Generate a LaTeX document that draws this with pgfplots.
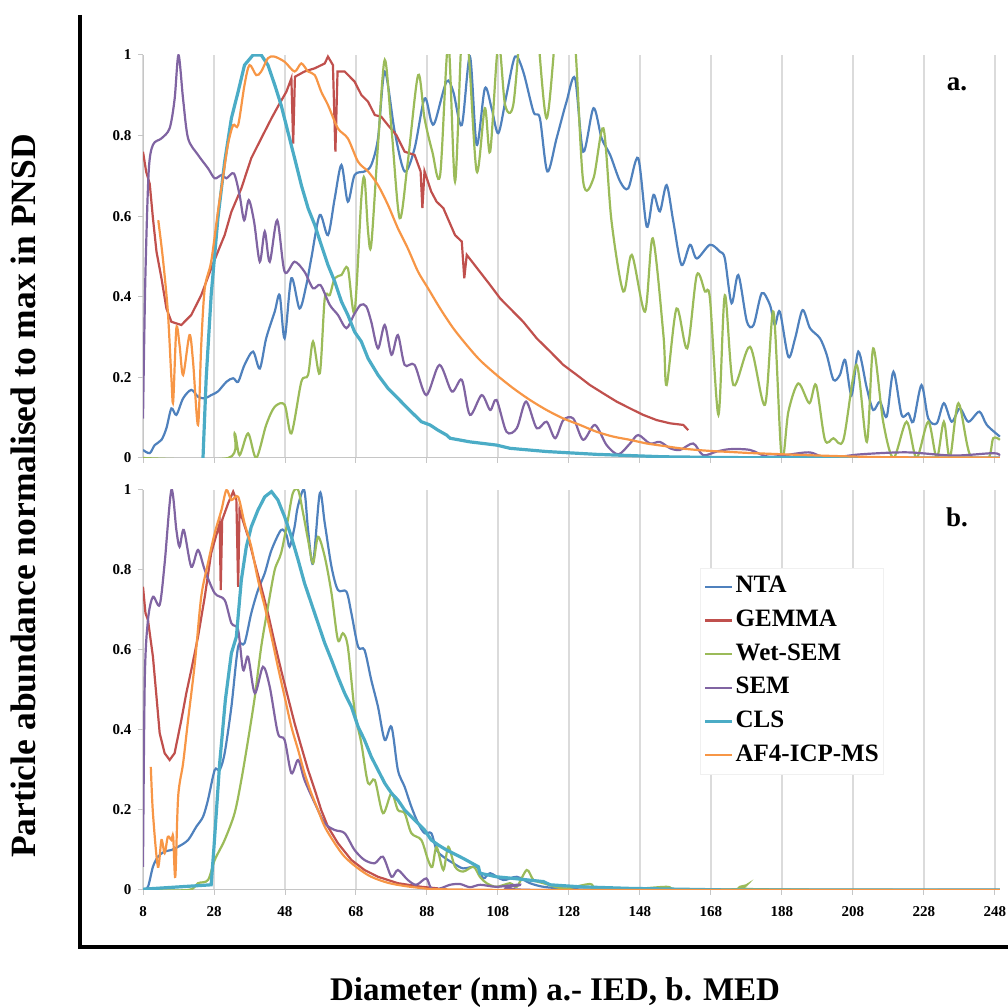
\documentclass[border=0pt]{standalone}
\usepackage{fontspec}
\setmainfont{Liberation Serif}
\usepackage{pgfplots}
\pgfplotsset{compat=1.18}
\definecolor{cNTA}{HTML}{4F81BD}
\definecolor{cGEM}{HTML}{C0504D}
\definecolor{cWET}{HTML}{9BBB59}
\definecolor{cSEM}{HTML}{8064A2}
\definecolor{cCLS}{HTML}{4BACC6}
\definecolor{cAF4}{HTML}{F79646}
\pgfplotsset{
  panel/.style={
    scale only axis, width=857.3pt,
    xmin=8, xmax=249.5, ymin=0, ymax=1,
    axis lines*=left,
    axis line style={draw=gray!45, line width=1pt},
    xtick={8,28,...,248}, ytick={0,0.2,0.4,0.6,0.8,1},
    yticklabels={0,0.2,0.4,0.6,0.8,1},
    xmajorgrids, major grid style={draw=gray!28, line width=1.3pt},
    tick style={draw=gray!45, line width=1pt}, tick align=outside, major tick length=5pt,
    tick label style={font=\fontsize{15}{18}\selectfont\bfseries},
    yticklabel style={anchor=east, xshift=-3pt},
  },
  ser/.style={line width=2.2pt, smooth, tension=0.5},
}
\begin{document}
\begin{tikzpicture}
\useasboundingbox (0pt,0pt) rectangle (1008pt,1008pt);
% ---------- panel a ----------
\begin{axis}[panel, height=403pt, at={(143pt,550pt)}, anchor=south west, xticklabels={}]
\addplot[ser, cNTA] coordinates {(8,0.02) (9.9,0.012) (11.3,0.032) (13.2,0.045) (14.6,0.074) (16,0.123) (17.4,0.107) (19.3,0.148) (21.6,0.169) (23.5,0.152) (25.4,0.148) (27.2,0.156) (29.1,0.165) (31.5,0.189) (33.4,0.198) (34.8,0.189) (36.6,0.231) (39,0.264) (40.9,0.222) (42.7,0.297) (45.1,0.363) (46.5,0.404) (47.9,0.297) (49.8,0.446) (52.1,0.371) (54,0.429) (55.4,0.495) (57.8,0.603) (60.1,0.553) (62,0.644) (63.9,0.727) (65.7,0.636) (67.6,0.702) (70.4,0.711) (72.3,0.727) (74.2,0.793) (76.1,0.959) (78.9,0.81) (81.7,0.711) (84.5,0.768) (87.3,0.892) (89.2,0.835) (90.3,0.835) (93.5,0.934) (95.4,0.909) (97.8,0.826) (100.1,0.996) (102,0.777) (104.3,0.917) (106.2,0.868) (108.1,0.806) (110.4,0.901) (112.8,0.996) (115.1,0.959) (118,0.859) (119.8,0.843) (121.9,0.711) (124.5,0.793) (127.3,0.884) (129.7,0.942) (132,0.76) (134.9,0.868) (137.2,0.793) (139.6,0.752) (142.4,0.686) (144.7,0.669) (147.5,0.744) (149.9,0.574) (151.8,0.653) (153.6,0.612) (155.5,0.677) (157.4,0.586) (159.7,0.479) (162.1,0.529) (164,0.495) (167.7,0.529) (170.5,0.512) (171.9,0.495) (173.8,0.384) (175.7,0.454) (178.1,0.339) (180,0.33) (182.3,0.409) (184.6,0.38) (186,0.33) (187.4,0.363) (189.8,0.251) (191.7,0.297) (193.8,0.367) (195.9,0.322) (198.7,0.297) (200.6,0.256) (202.5,0.194) (204.3,0.206) (205.8,0.243) (207.6,0.156) (209.5,0.264) (211.9,0.173) (213.7,0.119) (215.6,0.14) (217.5,0.103) (219.4,0.214) (221.7,0.107) (223.6,0.111) (225,0.09) (227.3,0.181) (229.2,0.098) (231.6,0.086) (233.6,0.136) (235.8,0.09) (238.1,0.123) (240.5,0.09) (243.6,0.115) (245.7,0.082) (249.4,0.053)};
\addplot[line width=2.2pt, cGEM] coordinates {(8,0.76) (8.9,0.71) (9.9,0.68) (10.8,0.595) (11.8,0.512) (13.2,0.446) (14.6,0.371) (16,0.338) (18.8,0.33) (21.6,0.355) (24.4,0.404) (27.2,0.47) (29.1,0.512) (31,0.553) (32.9,0.611) (35.7,0.669) (38.5,0.744) (41.3,0.793) (44.2,0.843) (46,0.872) (48.4,0.909) (49.8,0.942) (50.3,0.78) (50.8,0.946) (53.5,0.959) (56.4,0.967) (59.2,0.979) (60.1,0.996) (61.5,0.975) (62.2,0.76) (62.8,0.959) (64.8,0.959) (67.6,0.934) (69.5,0.901) (71.4,0.884) (73.3,0.851) (75.1,0.847) (77,0.826) (79.4,0.801) (81.7,0.76) (84.5,0.752) (86.2,0.711) (86.7,0.62) (87.3,0.711) (89.2,0.661) (90.7,0.636) (92.6,0.62) (95.9,0.553) (97.8,0.537) (98.5,0.446) (99.2,0.504) (102.9,0.462) (105.8,0.429) (108.6,0.396) (111.4,0.371) (115.1,0.338) (118.9,0.297) (122.7,0.264) (126.4,0.231) (130.2,0.206) (133.9,0.181) (137.7,0.16) (141.4,0.14) (145.2,0.123) (148.9,0.107) (152.7,0.094) (156.5,0.086) (160.2,0.082) (161.6,0.069)};
\addplot[ser, cWET] coordinates {(8,0) (32,0) (33.8,0.061) (35.2,0.007) (37.6,0.061) (39.9,0) (42.7,0.082) (45.1,0.127) (47.9,0.132) (49.8,0.061) (52.6,0.189) (54.5,0.206) (55.9,0.289) (57.8,0.21) (59.2,0.396) (60.6,0.404) (62,0.446) (63.9,0.454) (65.7,0.471) (67.6,0.363) (69.5,0.644) (70.4,0.694) (71.4,0.562) (72.3,0.529) (74.2,0.777) (76.1,0.988) (78,0.818) (80.3,0.595) (82.6,0.735) (85.5,0.95) (87.3,0.843) (89.5,0.76) (91.7,0.702) (94,1.03) (95.9,0.686) (97.8,1.05) (99.6,1.02) (102,0.711) (104.3,0.868) (105.8,0.76) (108.1,1.03) (110,0.876) (112.3,0.876) (114.7,1.1) (116.8,1.15) (118.9,1.08) (121.7,0.843) (124.5,1.08) (127,1.2) (129.7,1.03) (132,0.686) (134.9,0.694) (137.7,0.818) (140,0.586) (143.3,0.413) (145.7,0.504) (149.4,0.363) (151.6,0.545) (154.6,0.305) (155.5,0.181) (158.3,0.371) (161.3,0.272) (164,0.454) (166.3,0.413) (167.7,0.396) (170.1,0.107) (171.9,0.404) (174.3,0.181) (179,0.276) (183.2,0.132) (185.6,0.363) (187.9,0) (189.8,0.115) (192.6,0.185) (195.7,0.136) (197.6,0.181) (200.1,0.045) (202.5,0.049) (205.3,0.045) (209,0.231) (211.9,0.04) (213.7,0.272) (216.5,0.09) (219.4,0) (223.1,0.09) (225.9,0) (229.2,0.09) (231.6,0) (233.6,0.09) (235.3,0) (237.7,0.136) (241,0.007) (246.1,0) (247.5,0.049) (249.4,0.045)};
\addplot[ser, cSEM] coordinates {(8,0.098) (8.66,0.446) (9.6,0.71) (10.8,0.777) (13.2,0.793) (15.5,0.818) (16.9,0.89) (18,1.0) (19.3,0.89) (20.7,0.793) (23.5,0.752) (26.3,0.719) (28.2,0.694) (30.1,0.702) (31.5,0.694) (33.6,0.706) (35.2,0.653) (36.5,0.59) (37.8,0.64) (39.3,0.586) (40.9,0.487) (42.3,0.562) (43.7,0.487) (45.8,0.59) (47.9,0.462) (50.7,0.487) (53.5,0.462) (55.9,0.421) (58,0.429) (60.6,0.38) (62.9,0.355) (65.3,0.322) (67.4,0.355) (69.3,0.38) (70.9,0.376) (72.3,0.338) (74.2,0.272) (76.1,0.33) (78,0.256) (79.8,0.305) (81.7,0.231) (84.5,0.231) (87.8,0.156) (91.5,0.231) (95,0.165) (97.8,0.194) (100.1,0.107) (103.4,0.156) (105.8,0.119) (107.6,0.144) (110.4,0.065) (113.3,0.074) (115.9,0.14) (118.9,0.074) (121.7,0.09) (124.1,0.049) (126.4,0.094) (129.2,0.098) (132,0.045) (135.3,0.082) (138.6,0.032) (141.9,0.009) (145.2,0.036) (147.5,0.057) (150.8,0.036) (153.6,0.04) (156.5,0.024) (159.3,0.02) (163,0.036) (165.8,0.007) (169.6,0.016) (173.4,0.022) (179,0.02) (184.6,0.003) (195.4,0.014) (200.6,0) (210,0.009) (223.1,0.014) (236.3,0.006) (247.5,0.012) (249.4,0.006)};
\addplot[line width=3.2pt, cCLS] coordinates {(24.9,0) (25.8,0.198) (27.2,0.404) (29.1,0.595) (31,0.735) (32.9,0.843) (34.8,0.909) (36.6,0.975) (39,1.0) (41.3,1.0) (43.2,0.975) (45.1,0.926) (46.9,0.876) (48.8,0.81) (50.7,0.744) (52.6,0.677) (54.5,0.62) (56.4,0.578) (58.2,0.529) (60.1,0.479) (62,0.438) (63.9,0.388) (65.7,0.355) (67.6,0.313) (69.5,0.289) (71.4,0.247) (74.2,0.206) (77,0.173) (79.8,0.148) (82.6,0.123) (86.4,0.09) (88.85,0.082) (91.1,0.069) (93.5,0.057) (94.5,0.049) (100.1,0.04) (107.6,0.032) (111.4,0.024) (121.7,0.016) (135.8,0.009) (154.6,0.003) (173.4,0.001) (249.4,0)};
\addplot[ser, cAF4] coordinates {(12.3,0.59) (13.6,0.495) (15,0.363) (16,0.198) (16.5,0.14) (17.4,0.322) (18.3,0.28) (19.3,0.206) (21.1,0.305) (22.1,0.239) (23.5,0.082) (24.4,0.28) (25.4,0.421) (27.2,0.487) (29.1,0.611) (30.5,0.694) (31.9,0.777) (33.4,0.826) (34.8,0.826) (36.6,0.926) (38,0.975) (39.9,0.95) (41.3,0.959) (43.2,0.992) (45,0.996) (47.9,0.983) (50.7,0.959) (52.6,0.979) (54.5,0.959) (56.4,0.95) (58.2,0.909) (60.1,0.876) (62.9,0.818) (65.7,0.793) (68.6,0.735) (71.4,0.711) (74.2,0.677) (77,0.628) (79.8,0.57) (82.6,0.52) (85.5,0.462) (88.3,0.421) (91.7,0.371) (95.4,0.322) (99.2,0.28) (102.9,0.243) (107.6,0.206) (112.3,0.173) (117,0.144) (121.7,0.119) (126.4,0.098) (131.1,0.082) (135.8,0.065) (140.5,0.053) (145.2,0.045) (149.9,0.036) (154.6,0.03) (159.3,0.024) (164,0.02) (168.7,0.017) (173.4,0.015) (180,0.012) (198.7,0.006) (217.5,0.002) (245.7,0.001) (249.4,0.001)};
\end{axis}
% ---------- panel b ----------
\begin{axis}[panel, height=400pt, at={(143pt,118pt)}, anchor=south west,
  xticklabels={8,28,48,68,88,108,128,148,168,188,208,228,248},
  xticklabel style={anchor=center, yshift=-17pt},
  legend style={at={(0.65,0.805)}, anchor=north west, draw=gray!12, fill=white,
    font=\fontsize{25}{30}\selectfont\bfseries, row sep=0pt,
    nodes={text height=17pt, text depth=5pt, inner ysep=5.8pt, inner xsep=2pt}},
  legend cell align=left,
  legend image code/.code={\draw[#1] (0pt,0pt) -- (27pt,0pt);}]
\addplot[ser, cNTA] coordinates {(8,0) (9.4,0.008) (10.8,0.058) (12.2,0.083) (14.1,0.096) (16,0.1) (17.9,0.108) (20.7,0.125) (23,0.158) (24.9,0.183) (26.3,0.225) (28.2,0.3) (29.6,0.3) (31,0.342) (32.9,0.458) (34.8,0.608) (36.6,0.617) (38.5,0.692) (40.4,0.75) (42.3,0.792) (44.2,0.85) (46.9,0.9) (48.4,0.888) (49.3,0.858) (50.7,0.908) (51.6,0.958) (53.4,1.0) (54.5,0.9) (55.9,0.817) (57.8,0.992) (59.2,0.917) (61.1,0.808) (62.9,0.75) (65.3,0.746) (66.7,0.692) (68.6,0.608) (70.4,0.6) (72.3,0.525) (74.2,0.458) (76.1,0.375) (78,0.408) (79.8,0.3) (81.7,0.258) (83.6,0.208) (85.5,0.167) (87.3,0.142) (89.2,0.142) (90.7,0.1) (92.6,0.083) (95.4,0.067) (98.2,0.054) (102,0.058) (103.9,0.029) (105.8,0.042) (109.5,0.025) (113.3,0.033) (117,0.017) (120.8,0.008) (126.4,0.004) (140,0.001) (249.4,0)};
\addplot[line width=2.2pt, cGEM] coordinates {(8,0.758) (8.7,0.692) (9.4,0.675) (10.8,0.583) (11.8,0.483) (12.7,0.392) (14.1,0.342) (15.5,0.325) (16.9,0.342) (18.8,0.425) (20.2,0.492) (21.6,0.55) (23.5,0.633) (25.4,0.733) (27.2,0.842) (29.6,0.917) (29.9,0.75) (30.3,0.925) (32,0.967) (33.4,0.996) (34.3,0.975) (34.8,0.758) (35.2,0.95) (37.6,0.883) (39.5,0.817) (41.3,0.758) (43.2,0.692) (45.1,0.617) (46.9,0.55) (48.8,0.483) (50.7,0.417) (52.6,0.358) (54.5,0.3) (56.4,0.25) (58.2,0.2) (60.1,0.158) (62.9,0.117) (66.7,0.075) (70.4,0.05) (74.2,0.033) (79.8,0.017) (86.4,0.008) (91.1,0.004)};
\addplot[ser, cWET] coordinates {(8,0) (20.7,0) (23.5,0.017) (26.3,0.025) (28.2,0.075) (31,0.125) (33.8,0.192) (35.7,0.275) (37.6,0.375) (39.5,0.483) (41.3,0.608) (43.2,0.708) (45.1,0.8) (46.9,0.842) (48.8,0.925) (50.2,0.992) (51.7,1.0) (53.1,0.942) (54.5,0.875) (55.9,0.817) (57.3,0.883) (59.2,0.833) (61.1,0.742) (62.9,0.625) (64.3,0.642) (65.7,0.608) (67.6,0.45) (69.5,0.367) (71.4,0.267) (73.3,0.275) (75.6,0.192) (78,0.242) (79.8,0.2) (81.7,0.192) (83.6,0.142) (86.4,0.125) (88.3,0.075) (89.5,0.058) (90.7,0.108) (92.6,0.05) (94,0.108) (95.9,0.058) (98.2,0.046) (101.1,0.058) (102.9,0.033) (104.8,0.017) (107.6,0.008) (111.4,0.017) (113.3,0.008) (116.1,0.05) (118,0.025) (120.8,0.017) (124.5,0.007) (127.4,0.004) (133.9,0.015) (135.8,0.004) (145.2,0.002) (155.5,0.008) (158.3,0.002) (175,0.002) (178,0.012) (181,0.002) (249.4,0)};
\addplot[ser, cSEM] coordinates {(8,0.058) (8.5,0.525) (9.4,0.675) (10.8,0.733) (12.7,0.713) (14.1,0.817) (16,1.0) (17.4,0.9) (18.3,0.858) (19.5,0.9) (21.6,0.808) (23.5,0.85) (25.4,0.8) (28.2,0.742) (31,0.725) (32.9,0.667) (34.8,0.65) (36.2,0.55) (37.6,0.583) (39.5,0.492) (41.8,0.558) (43.7,0.508) (46,0.392) (47.9,0.375) (49.8,0.292) (51.7,0.325) (53.5,0.275) (56.4,0.217) (59.2,0.167) (62,0.15) (64.8,0.142) (67.6,0.1) (70.4,0.075) (73.3,0.067) (75.6,0.083) (78,0.033) (79.8,0.05) (82.6,0.025) (85,0.013) (87.8,0.029) (89.2,0.004) (91.7,0.004) (94.5,0.013) (97.3,0.015) (100.1,0.007) (103,0.013) (107.6,0.008) (114.2,0.013) (119.8,0) (249.4,0)};
\addplot[line width=3.2pt, cCLS] coordinates {(8,0.002) (27.2,0.013) (28,0.108) (29.6,0.317) (31.2,0.475) (32.9,0.592) (34.3,0.633) (35.7,0.775) (37.1,0.858) (38.5,0.908) (40.4,0.95) (42.3,0.983) (44.2,0.996) (46,0.975) (47.9,0.933) (49.8,0.883) (51.7,0.825) (53.5,0.767) (55.4,0.717) (57.3,0.667) (59.2,0.617) (61.1,0.575) (62.9,0.533) (64.8,0.492) (66.7,0.458) (68.6,0.408) (70.4,0.375) (72.3,0.333) (74.2,0.3) (76.1,0.267) (78,0.242) (79.8,0.225) (81.7,0.2) (84.5,0.175) (87.3,0.15) (89.2,0.125) (91.1,0.113) (93.5,0.1) (98.2,0.079) (102.5,0.058) (102.9,0.042) (107.6,0.033) (112.3,0.029) (120.8,0.021) (122.7,0.013) (131.1,0.008) (145.2,0.004) (173.4,0) (249.4,0)};
\addplot[ser, cAF4] coordinates {(10.2,0.308) (10.8,0.192) (12.2,0.058) (13.2,0.125) (14.1,0.092) (15,0.133) (16,0.125) (16.5,0.133) (17.1,0.033) (17.9,0.233) (19.3,0.317) (20.7,0.425) (22.6,0.567) (24.4,0.733) (26.3,0.817) (28.2,0.892) (30.1,0.95) (31.5,1.0) (32.9,0.975) (34.8,0.983) (36.6,0.917) (38.5,0.858) (40.4,0.775) (42.3,0.708) (44.2,0.633) (46,0.558) (47.9,0.483) (49.8,0.408) (51.7,0.35) (53.5,0.292) (55.4,0.242) (57.3,0.2) (59.2,0.158) (62,0.117) (64.8,0.083) (68.6,0.054) (72.3,0.033) (77,0.018) (81.7,0.01) (87.3,0.004) (91.1,0.002) (120,0) (249.4,0)};
\legend{NTA,GEMMA,Wet-SEM,SEM,CLS,AF4-ICP-MS}
\end{axis}
% frame lines and labels
\draw[line width=4.5pt] (80pt,993pt) -- (80pt,61pt) -- (1008pt,61pt);
\node[rotate=90, anchor=base, font=\fontsize{35.5}{40}\selectfont\bfseries] at (35pt,512pt) {Particle abundance normalised to max in PNSD};
\node[anchor=base, font=\fontsize{33}{40}\selectfont\bfseries] at (555pt,8pt) {Diameter (nm) a.- IED, b. MED};
\node[anchor=base, font=\fontsize{27}{30}\selectfont\bfseries] at (957pt,917pt) {a.};
\node[anchor=base, font=\fontsize{27}{30}\selectfont\bfseries] at (957pt,481pt) {b.};
\end{tikzpicture}
\end{document}
